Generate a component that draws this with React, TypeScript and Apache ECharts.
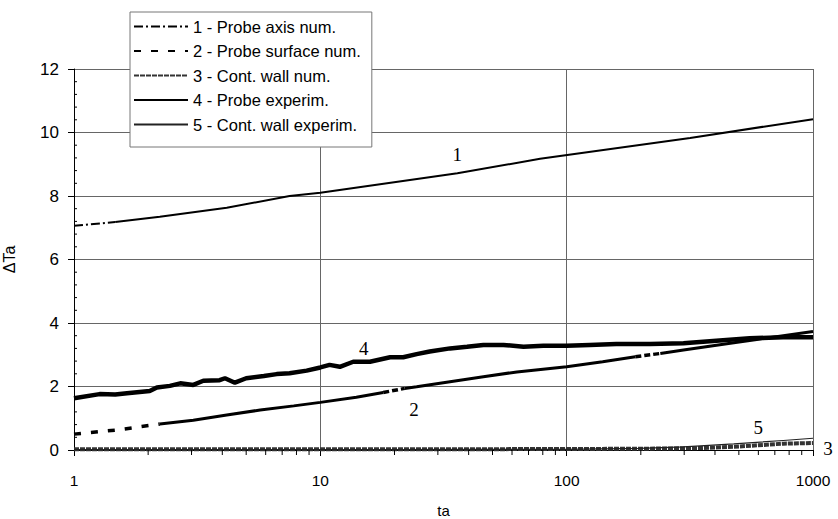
import React, { useEffect, useRef } from "react";
import * as echarts from "echarts";

const FONT = "Liberation Sans, Arial, sans-serif";
const SERIF = "Liberation Serif, Times New Roman, serif";

const seriesNames = [
  "1 - Probe axis num.",
  "2 - Probe surface num.",
  "3 - Cont. wall num.",
  "4 - Probe experim.",
  "5 - Cont. wall experim.",
];

// 1 - probe axis (numerical): dash-dot start, then looks solid
const probeAxisDashT = [1, 1.47];
const probeAxisDashV = [7.06, 7.18];
const probeAxisT = [1.47, 2.23, 4.17, 7.5, 10, 36, 78, 317, 1000];
const probeAxisV = [7.18, 7.35, 7.63, 8.0, 8.1, 8.72, 9.17, 9.83, 10.42];

// 2 - probe surface (numerical): dashed pieces and solid pieces
const probeSurfDashT = [1, 1.27, 1.49, 1.85, 2.23];
const probeSurfDashV = [0.5, 0.58, 0.63, 0.73, 0.82];
const probeSurfAT = [2.23, 3.05, 4.17, 5.7, 7.8, 10, 14, 18];
const probeSurfAV = [0.82, 0.94, 1.1, 1.26, 1.39, 1.5, 1.66, 1.81];
const probeSurfGap1T = [18, 22];
const probeSurfGap1V = [1.81, 1.94];
const probeSurfBT = [22, 24.6, 33.6, 45.9, 62.8, 100, 140, 190];
const probeSurfBV = [1.94, 1.99, 2.15, 2.31, 2.46, 2.62, 2.78, 2.94];
const probeSurfGap2T = [190, 240];
const probeSurfGap2V = [2.94, 3.04];
const probeSurfCT = [240, 298, 477, 1000];
const probeSurfCV = [3.04, 3.15, 3.38, 3.73];

// 3 - container wall (numerical)
const wallNumT = [1, 10, 100, 200, 350, 478, 757, 1000];
const wallNumV = [0.02, 0.02, 0.03, 0.04, 0.06, 0.1, 0.2, 0.22];

// 4 - probe (experimental)
const probeExpT = [1, 1.27, 1.47, 1.64, 2.03, 2.17, 2.45, 2.7, 3.05, 3.35, 3.9, 4.1, 4.5, 5.0, 5.9, 6.65, 7.5, 8.8, 10, 10.9, 12, 13.6, 15.9, 19.2, 21.7, 24.6, 27.8, 33.6, 39.4, 45.9, 55.4, 66.8, 80.4, 100, 124, 159, 218, 298, 405, 553, 756, 1000];
const probeExpV = [1.63, 1.76, 1.75, 1.79, 1.86, 1.97, 2.02, 2.1, 2.05, 2.18, 2.2, 2.26, 2.12, 2.26, 2.33, 2.39, 2.42, 2.5, 2.6, 2.68, 2.62, 2.78, 2.78, 2.92, 2.92, 3.02, 3.1, 3.2, 3.25, 3.31, 3.31, 3.25, 3.28, 3.28, 3.31, 3.34, 3.34, 3.36, 3.44, 3.52, 3.55, 3.55];

// 5 - container wall (experimental)
const wallExpT = [1, 20, 50, 100, 198, 298, 477, 757, 1000];
const wallExpV = [0.01, 0.01, 0.02, 0.02, 0.05, 0.1, 0.19, 0.3, 0.37];

// axis decorations
const xMinorTicks = [2, 3, 4, 5, 6, 7, 8, 9, 20, 30, 40, 50, 60, 70, 80, 90, 200, 300, 400, 500, 600, 700, 800, 900];
const yMinorTicks = [0.4, 0.8, 1.2, 1.6, 2.4, 2.8, 3.2, 3.6, 4.4, 4.8, 5.2, 5.6, 6.4, 6.8, 7.2, 7.6, 8.4, 8.8, 9.2, 9.6, 10.4, 10.8, 11.2, 11.6];

// curve annotations
const curveLabels = ["1", "2", "3", "4", "5"];
const curveLabelT = [36, 24, 1000, 15, 600];
const curveLabelV = [9.3, 1.26, 0.05, 3.2, 0.7];

const pairs = (t: number[], v: number[]) => t.map((x, i) => [x, v[i]]);

export default function App() {
  const ref = useRef<HTMLDivElement>(null);

  useEffect(() => {
    document.body.style.margin = "0";
    if (!ref.current) return;
    const chart = echarts.init(ref.current, null, { renderer: "svg" });

    const lineBase = {
      type: "line" as const,
      symbol: "none",
      showSymbol: false,
      silent: true,
      itemStyle: { color: "#000" },
      emphasis: { disabled: true },
    };

    const surfSolid = { color: "#000", width: 3, type: "solid" };
    const surfDash = { color: "#000", width: 3.5, type: [7, 10] };

    const option: any = {
      animation: false,
      backgroundColor: "#fff",
      grid: {
        left: 74,
        right: 25,
        top: 69,
        bottom: 69,
        containLabel: false,
        outerBoundsMode: "none",
      },
      legend: {
        orient: "vertical",
        left: 130,
        top: 12,
        data: seriesNames,
        selectedMode: false,
        itemWidth: 54,
        itemHeight: 14,
        itemGap: 7.5,
        padding: [6, 11, 14, 3],
        backgroundColor: "#fff",
        borderColor: "#777",
        borderWidth: 1,
        itemStyle: { opacity: 0 },
        textStyle: { fontSize: 16.5, lineHeight: 16, color: "#000", fontFamily: FONT },
      },
      xAxis: {
        type: "log",
        logBase: 10,
        min: 1,
        max: 1000,
        name: "ta",
        nameLocation: "middle",
        nameGap: 53,
        nameTextStyle: { fontSize: 15, color: "#000", fontFamily: FONT },
        axisLine: { show: true, lineStyle: { color: "#000", width: 1 } },
        axisTick: { show: true, length: 6, lineStyle: { color: "#000" } },
        axisLabel: {
          fontSize: 15.5,
          color: "#000",
          fontFamily: FONT,
          margin: 22,
          formatter: (v: number) => String(Math.round(v)),
        },
        splitLine: { show: true, lineStyle: { color: "#666", width: 1 } },
      },
      yAxis: {
        type: "value",
        min: 0,
        max: 12,
        interval: 2,
        name: "ΔTa",
        nameLocation: "middle",
        nameGap: 57,
        nameTextStyle: { fontSize: 16, color: "#000", fontFamily: FONT },
        axisLine: { show: true, lineStyle: { color: "#000", width: 1 } },
        axisTick: { show: true, length: 6, lineStyle: { color: "#000" } },
        axisLabel: { fontSize: 17, color: "#000", fontFamily: FONT, margin: 15 },
        splitLine: { show: true, lineStyle: { color: "#666", width: 1 } },
      },
      series: [
        {
          ...lineBase,
          name: seriesNames[0],
          data: pairs(probeAxisDashT, probeAxisDashV),
          lineStyle: { color: "#000", width: 2, type: [9, 3, 2, 3] },
          z: 3,
        },
        {
          ...lineBase,
          name: "_1s",
          data: pairs(probeAxisT, probeAxisV),
          lineStyle: { color: "#000", width: 2, type: "solid" },
          z: 3,
        },
        {
          ...lineBase,
          name: seriesNames[1],
          data: pairs(probeSurfDashT, probeSurfDashV),
          lineStyle: surfDash,
          z: 3,
        },
        { ...lineBase, name: "_2a", data: pairs(probeSurfAT, probeSurfAV), lineStyle: surfSolid, z: 3 },
        { ...lineBase, name: "_2g1", data: pairs(probeSurfGap1T, probeSurfGap1V), lineStyle: { ...surfDash, type: [6, 3] }, z: 3 },
        { ...lineBase, name: "_2b", data: pairs(probeSurfBT, probeSurfBV), lineStyle: surfSolid, z: 3 },
        { ...lineBase, name: "_2g2", data: pairs(probeSurfGap2T, probeSurfGap2V), lineStyle: { ...surfDash, type: [6, 3] }, z: 3 },
        { ...lineBase, name: "_2c", data: pairs(probeSurfCT, probeSurfCV), lineStyle: surfSolid, z: 3 },
        {
          ...lineBase,
          name: seriesNames[2],
          data: pairs(wallNumT, wallNumV),
          lineStyle: { color: "#333", width: 4, type: [5, 1] },
          z: 3,
        },
        {
          ...lineBase,
          name: seriesNames[3],
          data: pairs(probeExpT, probeExpV),
          lineStyle: { color: "#000", width: 4.5, type: "solid" },
          z: 4,
        },
        {
          ...lineBase,
          name: seriesNames[4],
          data: pairs(wallExpT, wallExpV),
          lineStyle: { color: "#222", width: 1.2, type: "solid" },
          z: 4,
        },
        {
          type: "custom",
          name: "_xminor",
          silent: true,
          clip: false,
          data: xMinorTicks.map((t) => [t, 0]),
          renderItem: (_p: any, api: any) => {
            const c = api.coord([api.value(0), 0]);
            return {
              type: "line",
              shape: { x1: c[0], y1: c[1], x2: c[0], y2: c[1] + 5 },
              style: { stroke: "#000", lineWidth: 1 },
            };
          },
          z: 5,
        },
        {
          type: "custom",
          name: "_yminor",
          silent: true,
          clip: false,
          data: yMinorTicks.map((v) => [1, v]),
          renderItem: (_p: any, api: any) => {
            const c = api.coord([1, api.value(1)]);
            return {
              type: "line",
              shape: { x1: c[0], y1: c[1], x2: c[0] + 3, y2: c[1] },
              style: { stroke: "#000", lineWidth: 1 },
            };
          },
          z: 5,
        },
        {
          type: "custom",
          name: "_labels",
          silent: true,
          clip: false,
          data: curveLabelT.map((t, i) => [t, curveLabelV[i], i]),
          renderItem: (_p: any, api: any) => {
            const idx = api.value(2);
            const c = api.coord([api.value(0), api.value(1)]);
            const dx = idx === 2 ? 15 : 0;
            return {
              type: "text",
              x: c[0] + dx,
              y: c[1],
              style: {
                text: curveLabels[idx],
                fontSize: 19,
                fontFamily: SERIF,
                fill: "#000",
                align: "center",
                verticalAlign: "middle",
              },
            };
          },
          z: 6,
        },
      ],
    };

    chart.setOption(option);
    return () => chart.dispose();
  }, []);

  return (
    <div
      ref={ref}
      style={{ position: "fixed", left: 0, top: 0, width: 838, height: 519, background: "#fff" }}
    />
  );
}
